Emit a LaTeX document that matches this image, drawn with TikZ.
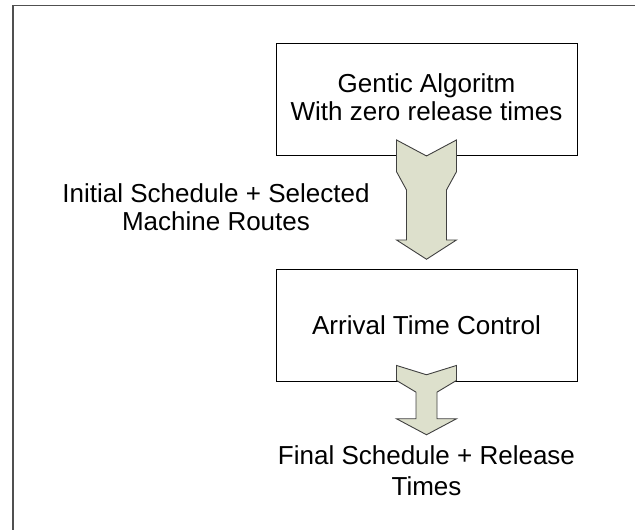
\documentclass[tikz,border=0pt]{standalone}
\usepackage{fontspec}
\setmainfont{Liberation Sans}
\usetikzlibrary{calc}
\definecolor{arrowfill}{RGB}{221,224,204}
\definecolor{framegray}{RGB}{80,80,80}
\tikzset{
  x=1pt, y=-1pt,
  procbox/.style={draw=black, line width=0.9pt, minimum width=301pt, minimum height=112pt, inner sep=0pt},
  label/.style={font=\fontsize{26}{28}\selectfont, align=center, anchor=base, inner sep=0pt},
  blockarrow/.style={draw=black!75, line width=0.9pt, fill=arrowfill, line join=miter},
  frameline/.style={draw=framegray, line width=1.4pt}
}
\begin{document}
\begin{tikzpicture}
  \useasboundingbox (0,0) rectangle (635,530);
  % partial outer frame
  \coordinate (fa) at (13,530);
  \coordinate (fb) at (13,5.3);
  \coordinate (fc) at (635,5.3);
  \draw[frameline] (fa) -- (fb) -- (fc);

  % process boxes
  \node[procbox] (ga) at (426.5,99.5) {};
  \node[procbox] (atc) at (426.5,325) {};

  % box texts (base anchor sits on the last line)
  \node[label] (gatext) at (426.5,120) {Gentic Algoritm\\With zero release times};
  \node[label] (atctext) at (426.5,334) {Arrival Time Control};

  % block arrow between the boxes
  \begin{scope}[shift={(ga.south)}]
    \draw[blockarrow] (-30,-16) -- (0,0) -- (30,-16) -- (30,15.7) -- (20,34) -- (20,84)
      -- (30,84) -- (0,103.3) -- (-30,84) -- (-20,84) -- (-20,34) -- (-30,15.7) -- cycle;
  \end{scope}

  % block arrow leaving the second box
  \begin{scope}[shift={(atc.south)}]
    \draw[blockarrow] (-30,-16) -- (0,-6.7) -- (30,-16) -- (30,-1) -- (10.5,10.7) -- (10.5,37.3)
      -- (30,37.3) -- (0,53.3) -- (-30,37.3) -- (-10.5,37.3) -- (-10.5,10.7) -- (-30,-1) -- cycle;
  \end{scope}

  % arrow captions
  \node[label] (inlabel) at (216,230) {Initial Schedule + Selected\\Machine Routes};
  \node[label, font=\fontsize{26}{31}\selectfont] (outlabel) at (426.5,495) {Final Schedule + Release\\Times};
\end{tikzpicture}
\end{document}
